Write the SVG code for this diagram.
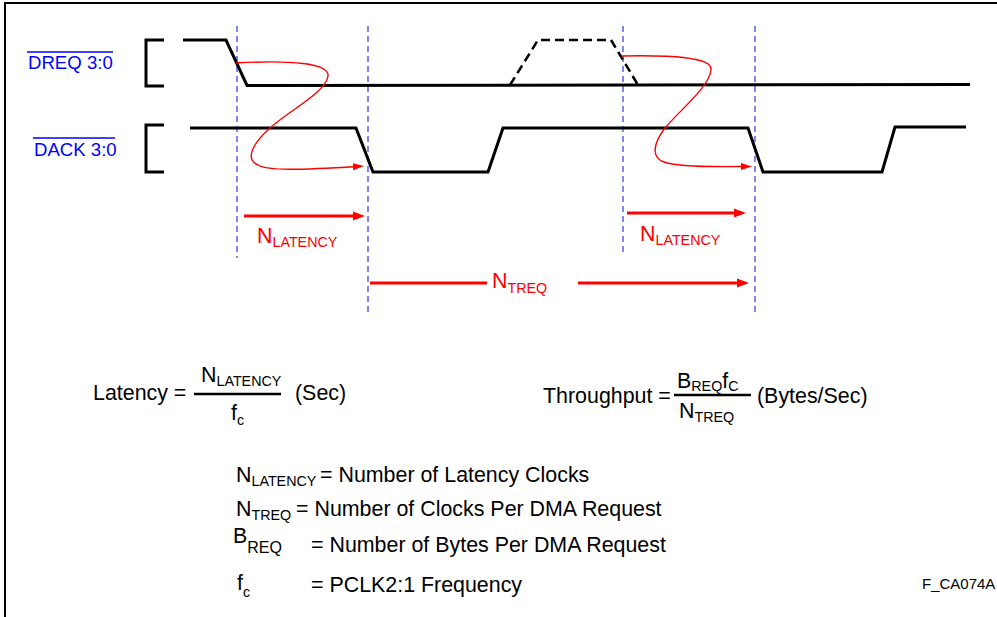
<svg xmlns="http://www.w3.org/2000/svg" width="997" height="617" viewBox="0 0 997 617">
<style>
.sig{fill:none;stroke:#000;stroke-width:3;stroke-linejoin:miter}
.dsig{fill:none;stroke:#000;stroke-width:2.5;stroke-dasharray:9,5}
.brk{fill:none;stroke:#000;stroke-width:3}
.guide{stroke:#7878f0;stroke-width:1.8;stroke-dasharray:6,4}
.red{fill:none;stroke:#ff0000;stroke-width:3}
.curve{fill:none;stroke:#ff0000;stroke-width:1.4}
.lbl{font-family:"Liberation Sans",Arial,sans-serif;font-size:18.6px;fill:#0000ff}
.t{font-family:"Liberation Sans",Arial,sans-serif;font-size:21.4px;fill:#000}
.s{font-size:14.3px}
.rt{font-family:"Liberation Sans",Arial,sans-serif;font-size:21.4px;fill:#ff0000}
</style>
<defs>
<marker id="ah" markerUnits="userSpaceOnUse" markerWidth="14" markerHeight="10" refX="4" refY="5" orient="auto">
<path d="M0,0.5 L12,5 L0,9.5 z" fill="#ff0000"/>
</marker>
<marker id="ahs" markerUnits="userSpaceOnUse" markerWidth="14" markerHeight="10" refX="4" refY="4" orient="auto">
<path d="M0,0.5 L11,4 L0,7.5 z" fill="#ff0000"/>
</marker>
</defs>
<rect width="997" height="617" fill="#fff"/>
<g id="frame"><path d="M5,618 L5,3 L998,3" fill="none" stroke="#000" stroke-width="2"/></g>

<g id="dreq-label">
<text class="lbl" x="28" y="69">DREQ 3:0</text>
<line x1="27" y1="52" x2="113" y2="52" stroke="#0000ff" stroke-width="1.5"/>
</g>
<g id="dack-label">
<text class="lbl" x="34" y="156">DACK 3:0</text>
<line x1="33" y1="138" x2="115" y2="138" stroke="#0000ff" stroke-width="1.5"/>
</g>

<g id="brackets">
<path class="brk" d="M164,40 L146,40 L146,86 L164,86"/>
<path class="brk" d="M164,125 L146,125 L146,172 L164,172"/>
</g>

<g id="guides">
<line class="guide" x1="237" y1="26" x2="237" y2="258"/>
<line class="guide" x1="368" y1="26" x2="368" y2="316"/>
<line class="guide" x1="623" y1="26" x2="623" y2="256"/>
<line class="guide" x1="755" y1="26" x2="755" y2="316"/>
</g>

<g id="dreq-signal">
<path class="sig" d="M183,40 L226,40 L247,85.5 L970,84.5"/>
<path class="dsig" d="M510,85 L538,40 L611,40 L638,85"/>
</g>
<g id="dack-signal">
<path class="sig" d="M190,128 L356,128 L373,172 L488,172 L503,128 L748,128 L763,172 L882,172 L895,127 L966,127"/>
</g>

<g id="connectors">
<path class="curve" marker-end="url(#ahs)" d="M236,63 C290,60 330,63 328,76 C326,92 290,110 270,128 C250,146 246,160 258,165 C268,171 300,170 357,166.5"/>
<path class="curve" marker-end="url(#ahs)" d="M622,56 C670,55 713,57 711,70 C709,87 682,108 665,128 C652,145 652,158 664,162 C676,167 710,167 745,166.5"/>
<line class="red" x1="244" y1="216" x2="357" y2="216" marker-end="url(#ah)"/>
<line class="red" x1="627" y1="213" x2="738" y2="213" marker-end="url(#ah)"/>
<line class="red" x1="370" y1="283" x2="487" y2="283"/>
<line class="red" x1="578" y1="283" x2="741" y2="283" marker-end="url(#ah)"/>
</g>

<g id="interval-labels">
<text class="rt" x="257" y="243">N<tspan class="s" dy="4">LATENCY</tspan></text>
<text class="rt" x="640" y="241">N<tspan class="s" dy="4">LATENCY</tspan></text>
<text class="rt" x="492" y="288">N<tspan class="s" dy="5">TREQ</tspan></text>
</g>

<g id="latency-formula">
<text class="t" x="93" y="400">Latency =</text>
<text class="t" x="201" y="382">N<tspan class="s" dy="4">LATENCY</tspan></text>
<line x1="194" y1="394" x2="281" y2="394" stroke="#000" stroke-width="2.5"/>
<text class="t" x="231" y="420">f<tspan class="s" dy="5">c</tspan></text>
<text class="t" x="295" y="400">(Sec)</text>
</g>

<g id="throughput-formula">
<text class="t" x="543" y="403">Throughput =</text>
<text class="t" x="677" y="388">B<tspan class="s" dy="3">REQ</tspan><tspan dy="-3">f</tspan><tspan class="s" dy="3">C</tspan></text>
<line x1="674" y1="395" x2="751" y2="395" stroke="#000" stroke-width="2.5"/>
<text class="t" x="679" y="418">N<tspan class="s" dy="4">TREQ</tspan></text>
<text class="t" x="757" y="403">(Bytes/Sec)</text>
</g>

<g id="definitions">
<text class="t" x="236" y="482">N<tspan class="s" dy="4">LATENCY</tspan></text>
<text class="t" x="320" y="482">= Number of Latency Clocks</text>
<text class="t" x="236" y="516">N<tspan class="s" dy="4">TREQ</tspan></text>
<text class="t" x="296" y="516">= Number of Clocks Per DMA Request</text>
<text class="t" x="233" y="543">B<tspan style="font-size:16px" dy="10">REQ</tspan></text>
<text class="t" x="311" y="552">= Number of Bytes Per DMA Request</text>
<text class="t" x="237" y="590">f<tspan class="s" dy="7">c</tspan></text>
<text class="t" x="311" y="592">= PCLK2:1 Frequency</text>
</g>

<g id="figure-id">
<text class="t" style="font-size:15px" x="922" y="589">F_CA074A</text>
</g>
</svg>
